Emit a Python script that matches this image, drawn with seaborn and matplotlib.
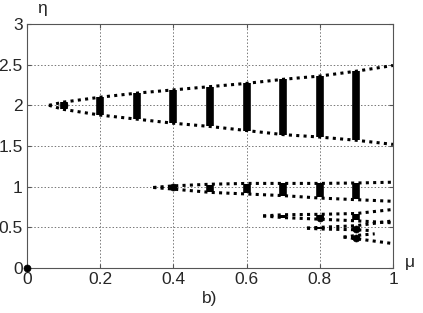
import matplotlib
matplotlib.use("Agg")
import matplotlib.pyplot as plt
import seaborn as sns
import pandas as pd

# branch curves (mu, upper eta, lower eta)
mu1 = [0.06, 0.1, 0.2, 0.3, 0.4, 0.5, 0.6, 0.7, 0.8, 0.9, 1.0]
up1 = [2.0, 2.04, 2.10, 2.15, 2.19, 2.23, 2.27, 2.32, 2.36, 2.42, 2.49]
lo1 = [2.0, 1.95, 1.88, 1.83, 1.78, 1.74, 1.69, 1.64, 1.61, 1.57, 1.52]

mu2 = [0.345, 0.4, 0.5, 0.6, 0.7, 0.8, 0.9, 1.0]
up2 = [0.99, 1.01, 1.03, 1.04, 1.04, 1.04, 1.045, 1.055]
lo2 = [0.99, 0.97, 0.93, 0.91, 0.89, 0.86, 0.84, 0.82]

mu3 = [0.645, 0.7, 0.8, 0.9, 1.0]
up3 = [0.64, 0.655, 0.66, 0.67, 0.72]
lo3 = [0.64, 0.62, 0.60, 0.58, 0.555]

mu4 = [0.765, 0.8, 0.9, 1.0]
up4 = [0.49, 0.50, 0.52, 0.58]
mu4_lo = [0.765, 0.8, 0.9, 0.94]
lo4 = [0.49, 0.48, 0.47, 0.46]

mu5_up = [0.865, 0.9, 0.95]
up5 = [0.38, 0.40, 0.42]
mu5_lo = [0.865, 0.9, 1.0]
lo5 = [0.38, 0.36, 0.30]

# vertical bars (mu, bottom, top)
bar_mu = [0.1, 0.2, 0.3, 0.4, 0.5, 0.6, 0.7, 0.8, 0.9,
          0.5, 0.6, 0.7, 0.8, 0.9,
          0.7, 0.8, 0.9,
          0.8, 0.9,
          0.9]
bar_lo = [1.96, 1.88, 1.83, 1.78, 1.74, 1.69, 1.64, 1.61, 1.57,
          0.94, 0.92, 0.89, 0.87, 0.85,
          0.61, 0.61, 0.59,
          0.48, 0.46,
          0.35]
bar_hi = [2.04, 2.10, 2.15, 2.19, 2.23, 2.27, 2.32, 2.36, 2.42,
          1.02, 1.03, 1.04, 1.04, 1.05,
          0.65, 0.65, 0.66,
          0.51, 0.50,
          0.39]
# single dots
dot_mu = [0.0, 0.1, 0.4, 0.8, 0.9, 0.9]
dot_eta = [0.0, 2.0, 1.0, 0.62, 0.48, 0.37]

sns.set_style("ticks")
plt.rcParams['font.family'] = ['Liberation Sans', 'DejaVu Sans']

fig = plt.figure(figsize=(4.23, 3.13), dpi=100)
ax = fig.add_axes([27 / 423, 45 / 313, 366 / 423, 244 / 313])

curves = [(mu1, up1), (mu1, lo1), (mu2, up2), (mu2, lo2), (mu3, up3), (mu3, lo3),
          (mu4, up4), (mu4_lo, lo4), (mu5_up, up5), (mu5_lo, lo5)]
for xs, ys in curves:
    df = pd.DataFrame({"mu": xs, "eta": ys})
    sns.lineplot(data=df, x="mu", y="eta", ax=ax, color="black", lw=2.2,
                 linestyle=(0, (1, 1.4)), sort=False, estimator=None)

ax.vlines(bar_mu, bar_lo, bar_hi, color="black", lw=5.5, zorder=4)
sns.scatterplot(x=dot_mu, y=dot_eta, ax=ax, color="black", s=26, zorder=5,
                edgecolor="black", clip_on=False)

ax.set_xlim(0, 1)
ax.set_ylim(0, 3)
ax.set_xticks([0, 0.2, 0.4, 0.6, 0.8, 1])
ax.set_xticklabels(["0", "0.2", "0.4", "0.6", "0.8", "1"])
ax.set_yticks([0, 0.5, 1, 1.5, 2, 2.5, 3])
ax.set_yticklabels(["0", "0.5", "1", "1.5", "2", "2.5", "3"])
ax.set_xlabel("")
ax.set_ylabel("")
ax.grid(True, color="#777777", linestyle=(0, (1.5, 2)), lw=0.7)
ax.tick_params(direction="in", length=3, labelsize=12.5, top=True, right=True,
               color="#555555", pad=3)
for s in ax.spines.values():
    s.set_color("#555555")
    s.set_linewidth(0.8)

fig.text(42 / 423, 1 - 8 / 313, "η", fontsize=12.5, ha="center", va="center")
fig.text(410 / 423, 1 - 262 / 313, "μ", fontsize=12.5, ha="center", va="center")
fig.text(210 / 423, 1 - 299 / 313, "b)", fontsize=12.5, ha="center", va="center")

fig.savefig("out.png", dpi=100)
